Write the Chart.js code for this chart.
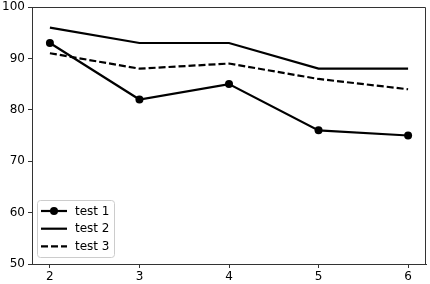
<!DOCTYPE html>
<html>
<head>
<meta charset="utf-8">
<script src="https://cdn.jsdelivr.net/npm/chart.js@4"></script>
<style>
  html, body { margin: 0; padding: 0; background: #fff; }
  #wrap { width: 430px; height: 284px; }
</style>
</head>
<body>
<div id="wrap"><canvas id="myChart" width="430" height="284"></canvas></div>
<script>
const xValues = [2, 3, 4, 5, 6];
const test1 = [93, 82, 85, 76, 75];
const test2 = [96, 93, 93, 88, 88];
const test3 = [91, 88, 89, 86, 84];
const seriesNames = ['test 1', 'test 2', 'test 3'];
const xTicks = [2, 3, 4, 5, 6];
const yTicks = [50, 60, 70, 80, 90, 100];

const FONT = '"DejaVu Sans", sans-serif';
const SPINE = '#333';
const pts = arr => arr.map((v, i) => ({x: xValues[i], y: v}));

// frame round the plot + legend inside the axes (matplotlib look)
const framePlugin = {
  id: 'frame',
  afterDraw(chart) {
    const c = chart.ctx, a = chart.chartArea;
    c.save();
    c.strokeStyle = SPINE;
    c.lineWidth = 1;
    c.beginPath();
    c.moveTo(a.left, Math.round(a.top) + 0.5);
    c.lineTo(Math.round(a.right) - 0.5, Math.round(a.top) + 0.5);
    c.lineTo(Math.round(a.right) - 0.5, a.bottom);
    c.stroke();

    // legend box
    const bx = a.left + 5, by = a.bottom - 64, bw = 77, bh = 57;
    c.fillStyle = 'rgba(255,255,255,0.8)';
    c.strokeStyle = '#ccc';
    c.lineWidth = 1;
    c.beginPath();
    c.roundRect(bx + 0.5, by + 0.5, bw, bh, 3);
    c.fill();
    c.stroke();

    chart.data.datasets.forEach((ds, i) => {
      const y = by + 11 + i * 17.7;
      c.strokeStyle = '#000';
      c.lineWidth = 2.2;
      c.setLineDash(ds.borderDash || []);
      c.beginPath();
      c.moveTo(bx + 4, y);
      c.lineTo(bx + 30, y);
      c.stroke();
      c.setLineDash([]);
      if (ds.pointRadius > 0) {
        c.fillStyle = '#000';
        c.beginPath();
        c.arc(bx + 17, y, 4, 0, Math.PI * 2);
        c.fill();
      }
      c.fillStyle = '#000';
      c.font = '12px ' + FONT;
      c.textBaseline = 'middle';
      c.textAlign = 'left';
      c.fillText(ds.label, bx + 38, y + 0.5);
    });
    c.restore();
  }
};

const data = {
  datasets: [
    {label: seriesNames[0], data: pts(test1), borderColor: '#000', backgroundColor: '#000',
     borderWidth: 2.2, pointRadius: 4, pointHoverRadius: 4, pointBackgroundColor: '#000', pointBorderWidth: 0},
    {label: seriesNames[1], data: pts(test2), borderColor: '#000',
     borderWidth: 2.2, pointRadius: 0},
    {label: seriesNames[2], data: pts(test3), borderColor: '#000',
     borderWidth: 2.2, pointRadius: 0, borderDash: [7, 3]},
  ]
};

const config = {
  type: 'line',
  data: data,
  options: {
    responsive: false,
    animation: false,
    layout: {padding: {top: 0, right: 4, left: 0, bottom: 0}},
    plugins: {legend: {display: false}, tooltip: {enabled: false}},
    scales: {
      x: {
        type: 'linear',
        min: 1.8,
        max: 6.2,
        afterBuildTicks: s => { s.ticks = xTicks.map(v => ({value: v})); },
        afterFit: s => { s.height = 20; },
        grid: {drawOnChartArea: false, drawTicks: true, tickLength: 4, color: SPINE},
        border: {display: true, color: SPINE, width: 1},
        ticks: {color: '#000', font: {family: FONT, size: 12}, padding: 2, maxRotation: 0}
      },
      y: {
        min: 50,
        max: 100,
        afterBuildTicks: s => { s.ticks = yTicks.map(v => ({value: v})); },
        afterFit: s => { s.width = 32; s.paddingTop = 7; s.paddingBottom = 0; },
        grid: {drawOnChartArea: false, drawTicks: true, tickLength: 4, color: SPINE},
        border: {display: true, color: SPINE, width: 1},
        ticks: {color: '#000', font: {family: FONT, size: 12}, padding: 3}
      }
    }
  },
  plugins: [framePlugin]
};

const myChart = new Chart(document.getElementById('myChart').getContext('2d'), config);
</script>
</body>
</html>
